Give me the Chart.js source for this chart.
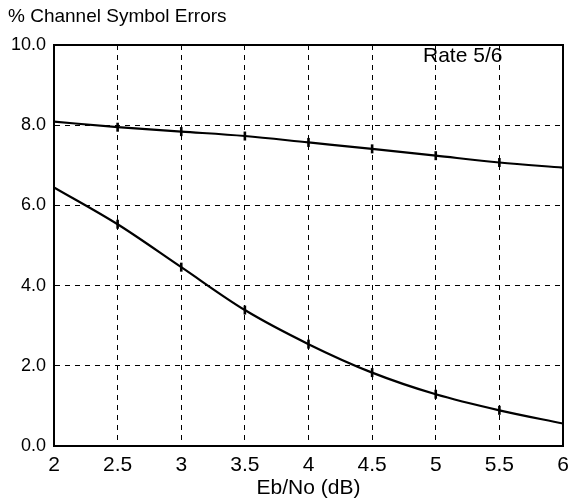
<!DOCTYPE html>
<html>
<head>
<meta charset="utf-8">
<script src="https://cdn.jsdelivr.net/npm/chart.js@4/dist/chart.umd.min.js"></script>
<style>
  html, body { margin: 0; padding: 0; background: #fff; }
  #wrap { width: 569px; height: 501px; position: relative; }
</style>
</head>
<body>
<div id="wrap"><canvas id="c"></canvas></div>
<script>
// Eb/No (dB) sample points and % symbol errors per curve
const ebno   = [2, 2.5, 3, 3.5, 4, 4.5, 5, 5.5, 6];
const upper  = [8.09, 7.95, 7.84, 7.73, 7.57, 7.41, 7.24, 7.07, 6.94];
const lower  = [6.45, 5.53, 4.46, 3.39, 2.54, 1.83, 1.29, 0.89, 0.56];
const yTitle = '% Channel Symbol Errors';
const xTitle = 'Eb/No (dB)';
const note   = 'Rate 5/6';

const FONT = "'Liberation Sans', Arial, Helvetica, sans-serif";
Chart.defaults.font.family = FONT;
Chart.defaults.font.size = 18;
Chart.defaults.color = '#000';

// tick marks at interior points only
const tickRadius = ebno.map((x, i) => (i === 0 || i === ebno.length - 1) ? 0 : 4.5);

const series = vals => ({
  data: ebno.map((x, i) => ({ x, y: vals[i] })),
  borderColor: '#000',
  borderWidth: 2.2,
  cubicInterpolationMode: 'monotone',
  pointStyle: 'line',
  rotation: 90,
  pointRadius: tickRadius,
  pointBorderColor: '#000',
  pointBorderWidth: 2.6,
  fill: false,
});

// frame + top-left caption + rate label
const extras = {
  id: 'extras',
  afterDraw(chart) {
    const { ctx, chartArea: a, scales } = chart;
    ctx.save();
    ctx.strokeStyle = '#000';
    ctx.lineWidth = 2;
    ctx.strokeRect(a.left, a.top, a.right - a.left, a.bottom - a.top);
    ctx.fillStyle = '#000';
    ctx.textBaseline = 'middle';
    ctx.textAlign = 'left';
    ctx.font = '19px ' + FONT;
    ctx.fillText(yTitle, 8, 17);
    ctx.font = '21px ' + FONT;
    ctx.fillText(note, scales.x.getPixelForValue(4.9), scales.y.getPixelForValue(9.73));
    ctx.restore();
  },
};

const dash = { color: '#000', lineWidth: 1, drawTicks: false };

new Chart(document.getElementById('c'), {
  type: 'line',
  data: { datasets: [series(upper), series(lower)] },
  options: {
    responsive: true,
    maintainAspectRatio: false,
    animation: false,
    layout: { padding: { left: 0, right: 6, top: 45, bottom: 0 } },
    plugins: { legend: { display: false }, tooltip: { enabled: false } },
    scales: {
      x: {
        type: 'linear', min: 2, max: 6,
        grid: dash,
        border: { display: true, color: '#000', width: 2, dash: [5, 5] },
        ticks: { stepSize: 0.5, padding: 7, maxRotation: 0, font: { size: 21 }, callback: v => String(v) },
        title: { display: true, text: xTitle, font: { size: 21 }, padding: { top: 0, bottom: 0 } },
        afterFit: s => { s.height = 55; s.paddingRight = 0; },
      },
      y: {
        min: 0, max: 10,
        grid: dash,
        border: { display: true, color: '#000', width: 2, dash: [5, 5] },
        ticks: { stepSize: 2, padding: 8, callback: v => v.toFixed(1) },
        afterFit: s => { s.width = 54; },
      },
    },
  },
  plugins: [extras],
});
</script>
</body>
</html>
